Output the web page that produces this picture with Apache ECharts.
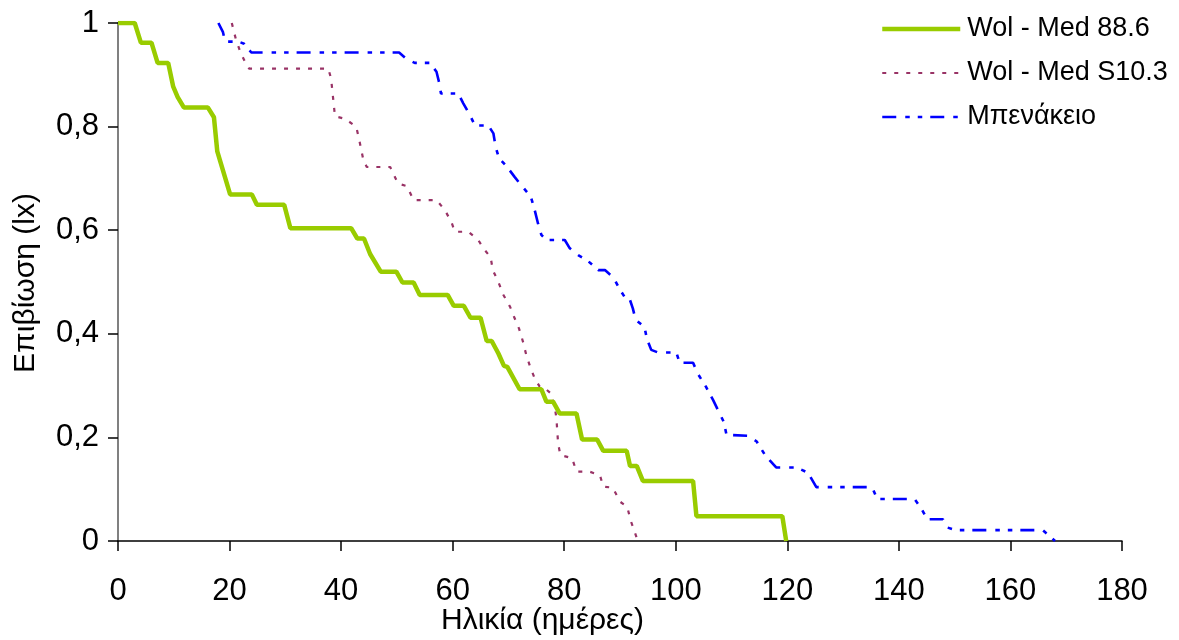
<!DOCTYPE html>
<html>
<head>
<meta charset="utf-8">
<script src="https://cdn.jsdelivr.net/npm/echarts@6/dist/echarts.min.js"></script>
<style>
html,body{margin:0;padding:0;background:#fff;}
#c{width:1179px;height:640px;}
</style>
</head>
<body>
<div id="c"></div>
<script>
// Series names
const seriesNames = ['Wol - Med 88.6', 'Wol - Med S10.3', 'Μπενάκειο'];
// Axis ticks
const xTicks = [0, 20, 40, 60, 80, 100, 120, 140, 160, 180];
const yTicks = [0, 0.2, 0.4, 0.6, 0.8, 1];
const xTitle = 'Ηλικία (ημέρες)';
const yTitle = 'Επιβίωση (lx)';

// [age (days), survival lx]
const wolMed886 = [[0,1],[3,1],[4.1,0.962],[6,0.962],[7.1,0.923],[9,0.923],[9.9,0.877],[10.7,0.857],[11.8,0.837],[16.1,0.837],[17.2,0.818],[17.8,0.752],[20.1,0.669],[24,0.669],[24.9,0.649],[29.8,0.649],[30.9,0.604],[41.8,0.604],[42.9,0.584],[44.1,0.584],[45.2,0.554],[47.1,0.52],[49.9,0.52],[51,0.499],[53,0.499],[54.1,0.475],[59.1,0.475],[60.2,0.454],[62,0.454],[63.2,0.431],[65,0.431],[66.1,0.386],[67,0.386],[68.2,0.362],[69.2,0.338],[69.8,0.336],[72,0.293],[75.9,0.293],[76.8,0.269],[78,0.269],[79.2,0.246],[82.2,0.246],[83.2,0.196],[85.9,0.196],[87,0.174],[91.2,0.174],[91.8,0.145],[93,0.145],[94.1,0.116],[103.1,0.116],[103.7,0.048],[119.1,0.048],[119.8,0]];

const wolMedS103 = [[20.4,1],[21.1,0.97],[21.9,0.945],[22.9,0.922],[23.5,0.912],[37.7,0.912],[38.2,0.893],[38.9,0.82],[40.7,0.815],[42.7,0.8],[43.2,0.777],[44,0.735],[44.6,0.722],[48.8,0.722],[50.2,0.69],[51.8,0.685],[53,0.658],[57.1,0.658],[58.6,0.639],[59.8,0.615],[60.4,0.597],[62.8,0.597],[64.6,0.581],[65.5,0.565],[66.8,0.548],[67.2,0.523],[68.2,0.5],[69.1,0.475],[70.3,0.452],[71,0.433],[71.9,0.41],[72.6,0.385],[73.2,0.359],[73.9,0.336],[74.7,0.314],[75.6,0.298],[76.2,0.298],[77.7,0.284],[78.3,0.259],[78.6,0.237],[78.9,0.189],[79.3,0.166],[81.4,0.16],[82.2,0.134],[84.5,0.134],[86.4,0.127],[87,0.105],[88.7,0.103],[90,0.076],[91.3,0.066],[91.9,0.04],[93.2,0]];

const benakeio = [[18,1],[18.8,0.983],[19.2,0.964],[21.6,0.964],[22.6,0.96],[23.9,0.943],[50.4,0.943],[51.7,0.931],[53.2,0.923],[55.9,0.923],[57.1,0.906],[57.6,0.884],[57.9,0.864],[61,0.864],[61.9,0.845],[63.1,0.822],[64,0.802],[66.4,0.802],[67.3,0.787],[67.7,0.761],[68.3,0.739],[69.7,0.723],[71.1,0.703],[72.5,0.684],[74,0.665],[74.7,0.639],[75.3,0.613],[75.9,0.591],[76.8,0.581],[80.1,0.581],[81,0.565],[82.5,0.552],[84.1,0.542],[86.1,0.523],[87.3,0.523],[88.8,0.509],[90,0.485],[91.2,0.465],[91.8,0.465],[92.3,0.449],[92.8,0.427],[94.4,0.413],[94.8,0.391],[95.6,0.369],[96.8,0.364],[100.1,0.364],[100.7,0.344],[103.1,0.344],[104,0.322],[105.4,0.298],[106.7,0.272],[107.6,0.252],[108.6,0.23],[109.1,0.205],[113.1,0.203],[114.5,0.192],[116,0.166],[118,0.142],[121.6,0.142],[123.7,0.132],[125.2,0.104],[135.2,0.104],[136.1,0.081],[142.8,0.081],[144,0.063],[145.1,0.042],[147.9,0.042],[148.7,0.026],[150.2,0.021],[165.8,0.021],[168,0]];

const FONT = '"Liberation Sans", Arial, sans-serif';
const chart = echarts.init(document.getElementById('c'), null, {renderer: 'canvas'});

const gridLeft = 118, gridRight = 57, gridTop = 23, gridBottom = 99;
const colors = ['#99cc00', '#993366', '#0000ff'];
const widths = [4.5, 2.2, 2.6];
const dashes = ['solid', [4, 8], [14, 9, 4.5, 8, 4.5, 8]];

chart.setOption({
  animation: false,
  backgroundColor: '#ffffff',
  grid: {left: gridLeft, right: gridRight, top: gridTop, bottom: gridBottom, containLabel: false},
  legend: {
    left: 875, top: 9, orient: 'vertical', padding: 5,
    itemWidth: 78, itemHeight: 14, itemGap: 14,
    itemStyle: {color: 'rgba(0,0,0,0)', borderColor: 'rgba(0,0,0,0)', borderWidth: 0, opacity: 0},
    textStyle: {fontFamily: FONT, fontSize: 27, color: '#000', lineHeight: 30, padding: [0,0,0,2]},
    data: seriesNames.map((n, i) => ({name: n, lineStyle: {color: colors[i], width: widths[i], type: dashes[i]}}))
  },
  xAxis: {
    type: 'value', min: xTicks[0], max: xTicks[xTicks.length-1], interval: 20,
    axisLine: {onZero: false, lineStyle: {color: '#000', width: 1.5}},
    axisTick: {show: true, inside: false, length: 10, lineStyle: {color: '#000', width: 1.5}},
    axisLabel: {fontFamily: FONT, fontSize: 31, color: '#000', margin: 35},
    splitLine: {show: false}
  },
  yAxis: {
    type: 'value', min: yTicks[0], max: yTicks[yTicks.length-1], interval: 0.2,
    axisLine: {show: true, lineStyle: {color: '#808080', width: 2}},
    axisTick: {show: true, inside: false, length: 10, lineStyle: {color: '#000', width: 1.5}},
    axisLabel: {fontFamily: FONT, fontSize: 31, color: '#000', margin: 19,
      formatter: v => (Math.round(v*10)/10).toString().replace('.', ',')},
    splitLine: {show: false}
  },
  graphic: [
    {type: 'text', left: 441, top: 606, style: {text: xTitle, font: '30px ' + FONT, fill: '#000'}},
    {type: 'text', x: 26, y: 283, rotation: Math.PI/2,
     style: {text: yTitle, font: '30px ' + FONT, fill: '#000', align: 'center', verticalAlign: 'middle'}}
  ],
  series: seriesNames.map((n, i) => ({
    name: n, type: 'line', data: [wolMed886, wolMedS103, benakeio][i],
    showSymbol: false, symbol: 'none',
    lineStyle: {color: colors[i], width: widths[i], type: dashes[i]},
    itemStyle: {color: colors[i]}, z: 3 - i
  }))
});
</script>
</body>
</html>
